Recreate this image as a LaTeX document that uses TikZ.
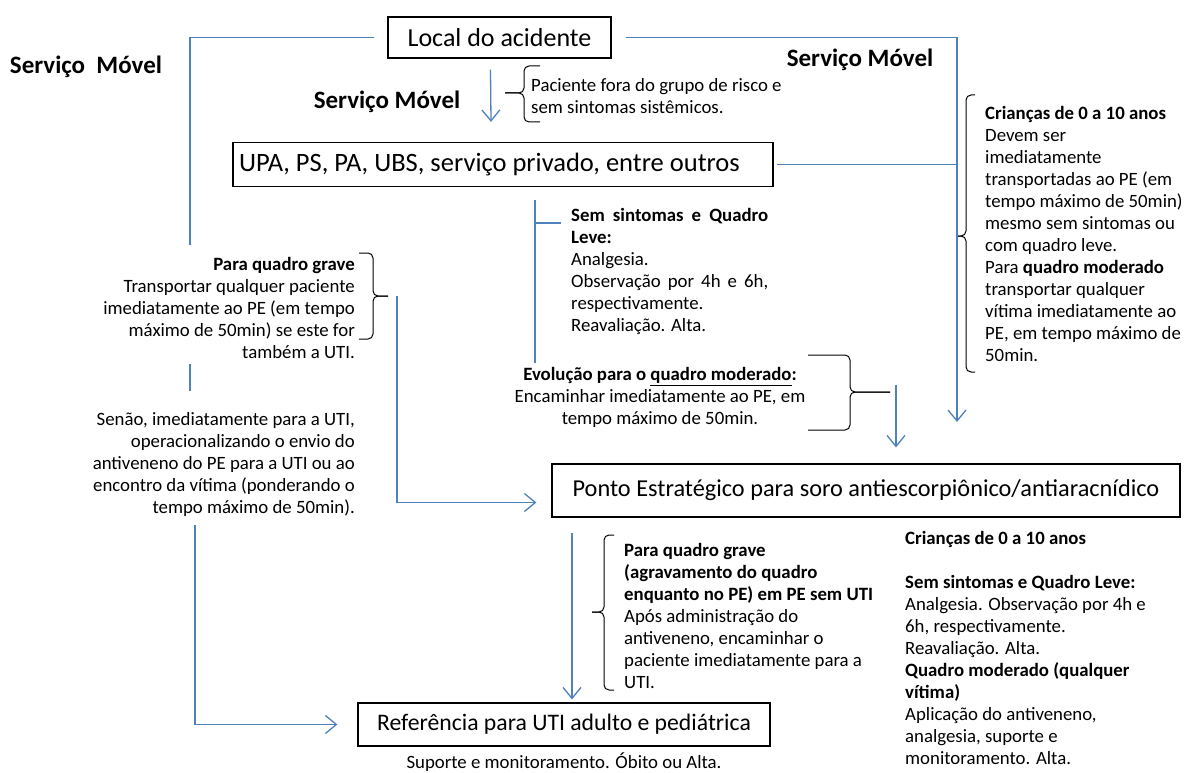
\documentclass[tikz,border=0pt]{standalone}
\usepackage{fontspec}
\setmainfont{Carlito}
\usetikzlibrary{arrows.meta,positioning,calc}
\definecolor{linkblue}{RGB}{79,129,189}
% curly brace: hook x, spine x, tip x, top y, tip y, bottom y
\newcommand{\curlybrace}[6]{%
  \draw[braceline] (#1,#4) -- (#2,#4) -- (#2,#5) -- (#3,#5);
  \draw[braceline] (#1,#6) -- (#2,#6) -- (#2,#5) -- (#3,#5);}

\begin{document}
\begin{tikzpicture}[x=1pt,y=-1pt,
  box/.style={draw,line width=1.2pt,inner sep=0pt,font=\fontsize{#1}{30}\selectfont},
  note/.style={inner sep=0pt,font=\fontsize{18.8}{22}\selectfont},
  service/.style={inner sep=0pt,font=\fontsize{25}{30}\selectfont\bfseries},
  link/.style={draw=linkblue,line width=1.3pt},
  arr/.style={link,-{Straight Barb[length=11pt,width=18pt]}},
  braceline/.style={line width=1pt,rounded corners=5pt}
]
\useasboundingbox (0,0) rectangle (1184,773);

% boxes
\node[box=26,minimum width=223,minimum height=41] (local) at (499.5,37.5) {Local do acidente};
\node[box=26.5,minimum height=44,inner xsep=6pt] (upa) at (503,164.5) {\makebox[528pt][l]{UPA, PS, PA, UBS, servi\c{c}o privado, entre outros}};
\node[box=24.3,minimum width=628,minimum height=53] (ponto) at (866,490.5) {Ponto Estrat\'egico para soro antiescorpi\^onico/antiaracn\'idico};
\node[box=23.7,minimum width=412,minimum height=43] (ref) at (564,724.5) {Refer\^encia para UTI adulto e pedi\'atrica};

% labels
\node[service] (smleft) at (86,67) {Servi\c{c}o\ \ M\'ovel};
\node[service] (smmid) at (387,102) {Servi\c{c}o M\'ovel};
\node[service] (smright) at (860,60) {Servi\c{c}o M\'ovel};

\node[note,align=left,anchor=north west] (fora) at (531,78) {Paciente fora do grupo de risco e\\sem sintomas sist\^emicos.};
\node[note,align=right,anchor=north east] (grave) at (355,257) {\textbf{Para quadro grave}\\Transportar qualquer paciente\\imediatamente ao PE (em tempo\\m\'aximo de 50min) se este for\\tamb\'em a UTI.};
\node[note,align=right,anchor=north east] (senao) at (355,412) {Sen\~ao, imediatamente para a UTI,\\operacionalizando o envio do\\antiveneno do PE para a UTI ou ao\\encontro da v\'itima (ponderando o\\tempo m\'aximo de 50min).};
\node[note,align=left,anchor=north west] (leve) at (571,208) {\makebox[197pt][s]{\bfseries Sem sintomas e Quadro}\\\textbf{Leve:}\\Analgesia.\\\makebox[197pt][s]{Observa\c{c}\~ao por 4h e 6h,}\\respectivamente.\\Reavalia\c{c}\~ao. Alta.};
\node[note,align=center,anchor=north] (evol) at (660,367) {\textbf{Evolu\c{c}\~ao para o \underline{quadro moderado}:}\\Encaminhar imediatamente ao PE, em\\tempo m\'aximo de 50min.};
\node[note,align=left,anchor=north west] (criancas) at (985,106) {\textbf{Crian\c{c}as de 0 a 10 anos}\\Devem ser\\imediatamente\\transportadas ao PE (em\\tempo m\'aximo de 50min)\\mesmo sem sintomas ou\\com quadro leve.\\Para \textbf{quadro moderado}\\transportar qualquer\\v\'itima imediatamente ao\\PE, em tempo m\'aximo de\\50min.};
\node[note,align=left,anchor=north west] (semuti) at (624,543) {\textbf{Para quadro grave}\\\textbf{(agravamento do quadro}\\\textbf{enquanto no PE) em PE sem UTI}\\Ap\'os administra\c{c}\~ao do\\antiveneno, encaminhar o\\paciente imediatamente para a\\UTI.};
\node[note,align=left,anchor=north west] (pediat) at (905,531) {\textbf{Crian\c{c}as de 0 a 10 anos}\\[22pt]\textbf{Sem sintomas e Quadro Leve:}\\Analgesia. Observa\c{c}\~ao por 4h e\\6h, respectivamente.\\Reavalia\c{c}\~ao. Alta.\\\textbf{Quadro moderado (qualquer}\\\textbf{v\'itima)}\\Aplica\c{c}\~ao do antiveneno,\\analgesia, suporte e\\monitoramento. Alta.};
\node[note,anchor=center] (suporte) at (564,762) {Suporte e monitoramento. \'Obito ou Alta.};

% braces
\curlybrace{540}{524}{505}{66}{93}{122}
\curlybrace{359}{373}{388}{253}{296}{339}
\curlybrace{808}{850}{890}{355}{392}{430}
\curlybrace{975}{966}{957}{95}{236}{372}
\curlybrace{614}{604}{592}{535}{612}{690}

% connectors
\coordinate (lefttop) at (190,245);
\coordinate (leftmidA) at (190,364);
\coordinate (leftmidB) at (190,391);
\coordinate (leftlow) at (195,525);
\coordinate (rightend) at (957,422);
\coordinate (gravetop) at (397,296);
\coordinate (levetop) at (535,200);
\coordinate (leveend) at (535,363);
\coordinate (levetick) at (561,223);
\coordinate (evoltop) at (896,385);

\draw[link] ($(local.west)+(-13,0)$) -| (lefttop);
\draw[link] (leftmidA) -- (leftmidB);
\draw[arr] (leftlow) |- ($(ref.west)+(-20,0)$);
\draw[arr] ($(local.east)+(14,0)$) -| (rightend);
\draw[link] ($(upa.east)+(3,0)$) -- (upa.east -| rightend);
\draw[arr] ($(local.south)+(-9,11)$) -- ($(upa.north)+(-12,-20)$);
\draw[link] (levetop) -- (leveend);
\draw[link] (levetop |- levetick) -- (levetick);
\draw[arr] (gravetop) |- ($(ponto.west)+(-15,12)$);
\draw[arr] (evoltop) -- ($(ponto.north -| evoltop)+(0,-16)$);
\draw[arr] ($(ponto.south -| 572,0)+(0,15)$) -- ($(ref.north -| 572,0)+(0,-3)$);
\end{tikzpicture}
\end{document}
